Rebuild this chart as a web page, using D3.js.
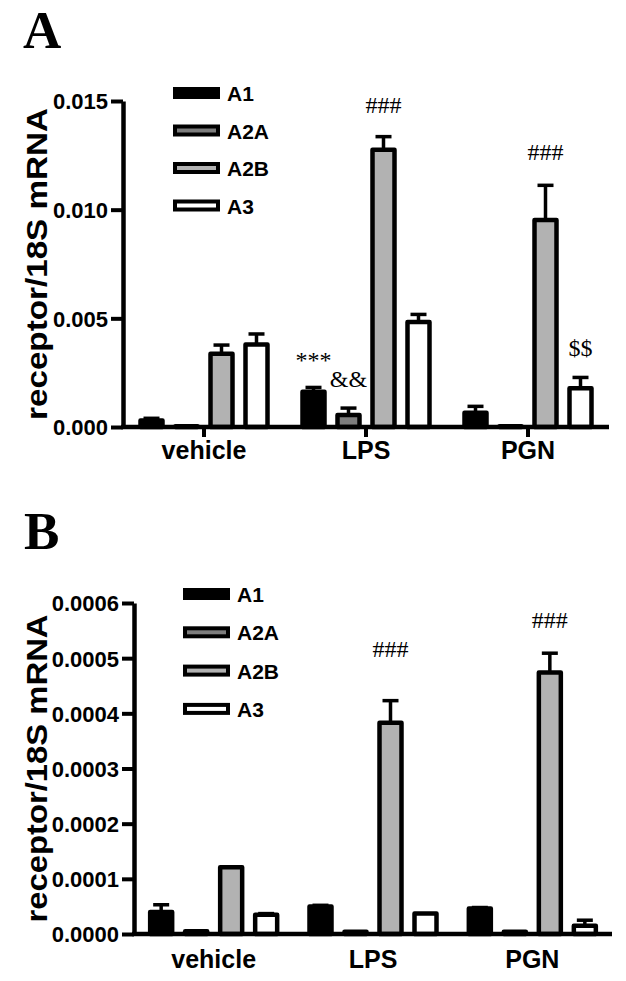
<!DOCTYPE html>
<html>
<head>
<meta charset="utf-8">
<script src="https://cdn.jsdelivr.net/npm/d3@7"></script>
<style>
  html, body { margin: 0; padding: 0; background: #fff; }
  svg { display: block; }
  .sans { font-family: "Liberation Sans", Arial, sans-serif; font-weight: bold; }
  .serif { font-family: "Liberation Serif", "Times New Roman", serif; }
</style>
</head>
<body>
<svg id="chart" width="626" height="981"></svg>
<script>
// ---------------- DATA ----------------
const categories = ["vehicle", "LPS", "PGN"];
const series = ["A1", "A2A", "A2B", "A3"];

// Panel A: mean values per series (vehicle, LPS, PGN)
const A_A1  = [0.00030, 0.00162, 0.00065];
const A_A2A = [0.00003, 0.00055, 0.00003];
const A_A2B = [0.00337, 0.01276, 0.00952];
const A_A3  = [0.00380, 0.00483, 0.00178];
// Panel A: error (SEM, upward)
const A_A1_err  = [0.00010, 0.00020, 0.00030];
const A_A2A_err = [0.00000, 0.00032, 0.00000];
const A_A2B_err = [0.00040, 0.00060, 0.00160];
const A_A3_err  = [0.00048, 0.00035, 0.00050];
const A_ticks = [0, 0.005, 0.010, 0.015];

// Panel B
const B_A1  = [0.000040, 0.000050, 0.000046];
const B_A2A = [0.000005, 0.000004, 0.000004];
const B_A2B = [0.000121, 0.000383, 0.000474];
const B_A3  = [0.000035, 0.000037, 0.000015];
const B_A1_err  = [0.000013, 0.000002, 0.000002];
const B_A2A_err = [0.000000, 0.000000, 0.000000];
const B_A2B_err = [0.000000, 0.000040, 0.000035];
const B_A3_err  = [0.000002, 0.000000, 0.000010];
const B_ticks = [0, 0.0001, 0.0002, 0.0003, 0.0004, 0.0005, 0.0006];

// Significance marks: [category, series, text, level in data units]
const A_marks = [
  ["LPS", "A1", "***", 0.00272],
  ["LPS", "A2A", "&&", 0.00184],
  ["LPS", "A2B", "###", 0.01445],
  ["PGN", "A2B", "###", 0.01229],
  ["PGN", "A3", "$$", 0.00327]
];
const B_marks = [
  ["LPS", "A2B", "###", 0.000502],
  ["PGN", "A2B", "###", 0.000555]
];

// ---------------- STYLES ----------------
const fills = { A1: "#000000", A2A: "#7d7d7d", A2B: "#b2b2b2", A3: "#ffffff" };

const svg = d3.select("#chart");
svg.append("rect").attr("width", 626).attr("height", 981).attr("fill", "#fff");

function buildRows(vals, errs) {
  const rows = [];
  categories.forEach((c, ci) => {
    series.forEach((s, si) => {
      rows.push({ cat: c, ser: s, v: vals[si][ci], e: errs[si][ci] });
    });
  });
  return rows;
}

function drawPanel(cfg) {
  const g = svg.append("g");
  const y = d3.scaleLinear().domain(cfg.domain).range([cfg.y0, cfg.y1]);
  const x = d3.scaleBand().domain(categories).range([cfg.xAxis, cfg.xEnd]).paddingInner(0).paddingOuter(0);
  const xs = d3.scaleBand().domain(series).range([-70, 70]);
  const barW = 22;
  const rows = buildRows(cfg.vals, cfg.errs);

  // Error bars
  const eb = g.append("g");
  rows.forEach(d => {
    const cx = x(d.cat) + x.bandwidth() / 2 + xs(d.ser) + xs.bandwidth() / 2;
    if (d.e > 0) {
      eb.append("line").attr("x1", cx).attr("x2", cx)
        .attr("y1", y(d.v)).attr("y2", y(d.v + d.e))
        .attr("stroke", "#000").attr("stroke-width", 3.5);
      eb.append("line").attr("x1", cx - 8).attr("x2", cx + 8)
        .attr("y1", y(d.v + d.e)).attr("y2", y(d.v + d.e))
        .attr("stroke", "#000").attr("stroke-width", 3.5);
    }
  });

  // Bars
  g.append("g").selectAll("rect").data(rows).join("rect")
    .attr("x", d => x(d.cat) + x.bandwidth() / 2 + xs(d.ser) + xs.bandwidth() / 2 - barW / 2)
    .attr("y", d => y(d.v))
    .attr("width", barW)
    .attr("height", d => Math.max(0, y(0) - y(d.v)))
    .attr("fill", d => fills[d.ser])
    .attr("stroke", "#000")
    .attr("stroke-width", 4.5)
    .attr("stroke-linejoin", "round");

  // Y axis
  const yAxis = d3.axisLeft(y).tickValues(cfg.ticks).tickFormat(d3.format(cfg.fmt))
    .tickSize(12).tickSizeOuter(0).tickPadding(3);
  const ya = g.append("g").attr("transform", `translate(${cfg.xAxis},0)`).call(yAxis);
  ya.select(".domain").attr("stroke-width", 4.5).attr("stroke", "#000");
  ya.selectAll(".tick line").attr("stroke-width", 4).attr("stroke", "#000");
  ya.selectAll(".tick text").attr("class", "sans").attr("font-size", 22)
    .attr("fill", "#000").attr("dy", "0.36em");

  // X axis
  const xAxis = d3.axisBottom(x).tickSize(cfg.xTick).tickSizeOuter(0).tickFormat(d => d);
  const xa = g.append("g").attr("transform", `translate(0,${cfg.y0})`).call(xAxis);
  xa.select(".domain").attr("stroke-width", 4.5).attr("stroke", "#000")
    .attr("d", `M${cfg.xAxis - 2},0H${cfg.xEnd}`);
  xa.selectAll(".tick line").attr("stroke-width", 4).attr("stroke", "#000");
  xa.selectAll(".tick text").attr("class", "sans").attr("font-size", 25)
    .attr("fill", "#000").attr("y", cfg.labelY).attr("dy", 0);

  // Y title
  g.append("text").attr("class", "sans")
    .attr("transform", `translate(${cfg.titleX},${(cfg.y0 + cfg.y1) / 2}) rotate(-90)`)
    .attr("text-anchor", "middle").attr("font-size", 30)
    .attr("textLength", cfg.titleLen).attr("lengthAdjust", "spacingAndGlyphs")
    .text("receptor/18S mRNA");

  // Legend
  const lg = g.append("g").attr("transform", `translate(${cfg.legX},${cfg.legY})`);
  series.forEach((s, i) => {
    const gy = i * cfg.legStep;
    lg.append("rect").attr("x", 2).attr("y", gy + 2).attr("width", 43).attr("height", 8)
      .attr("fill", fills[s]).attr("stroke", "#000").attr("stroke-width", 4);
    lg.append("text").attr("class", "sans").attr("x", 54).attr("y", gy + 14)
      .attr("font-size", 21).text(s);
  });

  // Significance marks
  cfg.marks.forEach(m => {
    const cx = x(m[0]) + x.bandwidth() / 2 + xs(m[1]) + xs.bandwidth() / 2;
    g.append("text").attr("class", "serif").attr("x", cx).attr("y", y(m[3]))
      .attr("text-anchor", "middle").attr("font-size", 24).text(m[2]);
  });

  // Panel letter
  svg.append("text").attr("class", "serif").attr("font-weight", "bold")
    .attr("x", cfg.letterX).attr("y", cfg.letterY).attr("font-size", 53).text(cfg.letter);
}

drawPanel({
  domain: [0, 0.015], y0: 427, y1: 101, xAxis: 123, xEnd: 609,
  vals: [A_A1, A_A2A, A_A2B, A_A3], errs: [A_A1_err, A_A2A_err, A_A2B_err, A_A3_err],
  ticks: A_ticks, fmt: ".3f", xTick: 10, labelY: 32,
  titleX: 47, titleLen: 312, legX: 173, legY: 87, legStep: 37.5,
  marks: A_marks, letter: "A", letterX: 23, letterY: 48
});

drawPanel({
  domain: [0, 0.0006], y0: 934, y1: 603, xAxis: 134, xEnd: 612,
  vals: [B_A1, B_A2A, B_A2B, B_A3], errs: [B_A1_err, B_A2A_err, B_A2B_err, B_A3_err],
  ticks: B_ticks, fmt: ".4f", xTick: 0, labelY: 34,
  titleX: 47, titleLen: 308, legX: 183, legY: 588, legStep: 38.3,
  marks: B_marks, letter: "B", letterX: 24, letterY: 549
});
</script>
</body>
</html>
